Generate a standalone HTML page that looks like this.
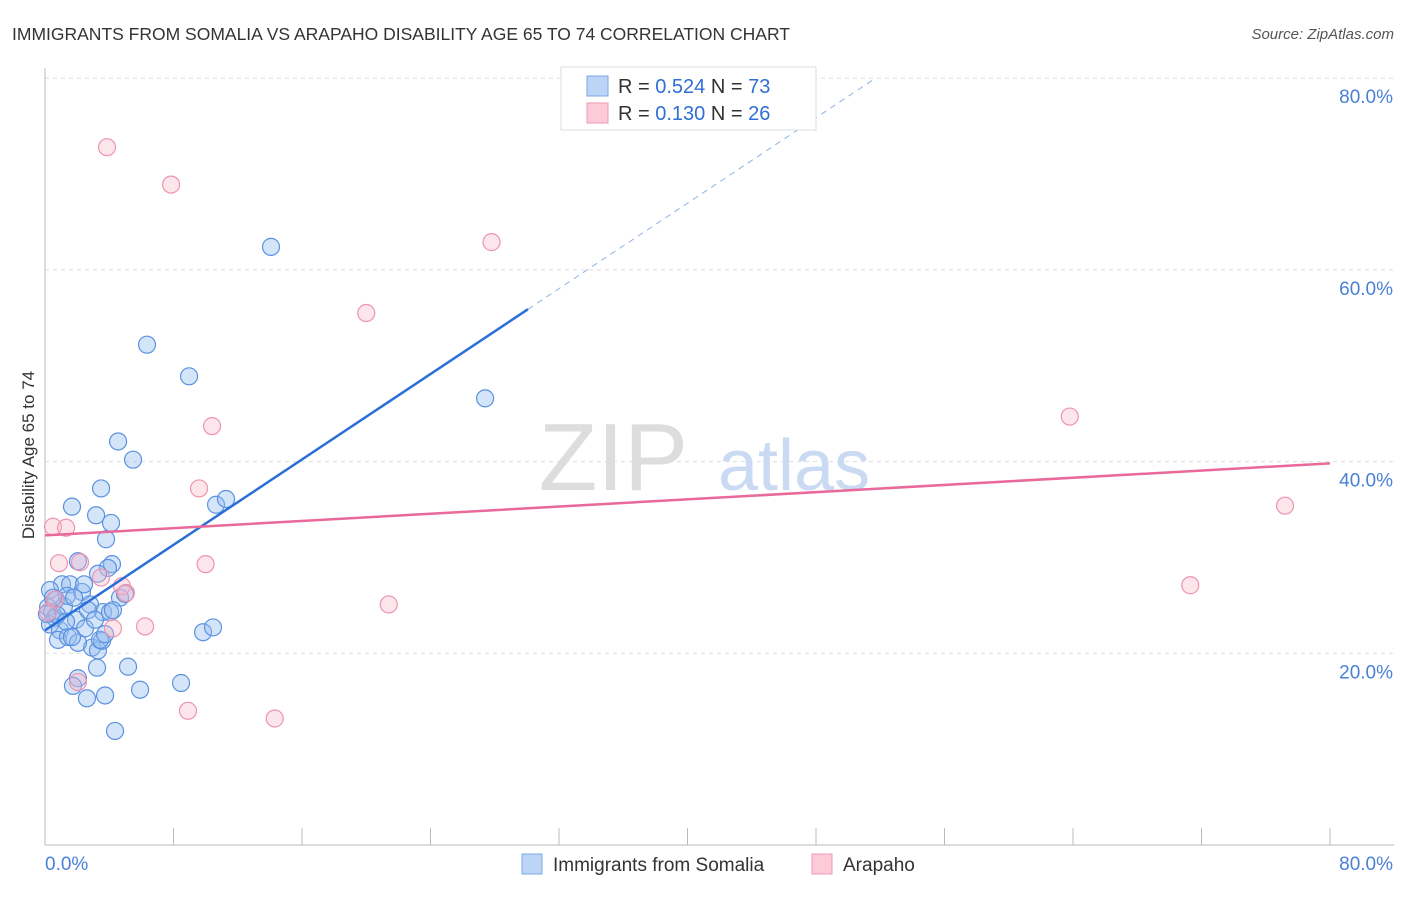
<!DOCTYPE html>
<html><head><meta charset="utf-8"><style>
body{margin:0;background:#fff;font-family:"Liberation Sans",sans-serif}
svg text{font-family:"Liberation Sans",sans-serif}
</style></head><body>
<svg width="1406" height="892" xmlns="http://www.w3.org/2000/svg">
<text x="12" y="40" font-size="17.5" fill="#333">IMMIGRANTS FROM SOMALIA VS ARAPAHO DISABILITY AGE 65 TO 74 CORRELATION CHART</text>
<text x="1394" y="39" font-size="15" fill="#555" font-style="italic" text-anchor="end">Source: ZipAtlas.com</text>
<g id="grid"></g>
<text x="688" y="490" font-size="96" fill="#ddd" font-family="Liberation Serif" text-anchor="end">ZIP</text>
<text x="718" y="490" font-size="72" fill="#c9daf2">atlas</text>
<line x1="45" y1="68" x2="45" y2="845" stroke="#bbb"/>
<line x1="45" y1="845" x2="1394" y2="845" stroke="#bbb"/>
<g id="ticks"></g>
<text x="34" y="455" font-size="17" fill="#333" text-anchor="middle" transform="rotate(-90 34 455)">Disability Age 65 to 74</text>
<g id="pts"></g>
<g id="lines"></g>
<g>
<rect x="561" y="67" width="255" height="63" fill="#fff" stroke="#ddd"/>
<rect x="587" y="76" width="21" height="20" fill="#bcd4f6" stroke="#7aa7e6"/>
<rect x="587" y="103" width="21" height="20" fill="#fbcbd9" stroke="#ef9ab4"/>
<text x="618" y="93" font-size="20" fill="#333">R = <tspan fill="#2f6fd6">0.524</tspan>   N = <tspan fill="#2f6fd6">73</tspan></text>
<text x="618" y="120" font-size="20" fill="#333">R =  <tspan fill="#2f6fd6">0.130</tspan>   N = <tspan fill="#2f6fd6">26</tspan></text>
</g>
<g>
<rect x="522" y="854" width="20" height="20" fill="#bcd4f6" stroke="#7aa7e6"/>
<text x="553" y="871" font-size="19" fill="#333">Immigrants from Somalia</text>
<rect x="812" y="854" width="20" height="20" fill="#fbcbd9" stroke="#ef9ab4"/>
<text x="843" y="871" font-size="19" fill="#333">Arapaho</text>
</g>
</svg>
<script>
const yTicks=[20,40,60,80];
const yTickLabels=["20.0%","40.0%","60.0%","80.0%"];
const xTickLabels=["0.0%","80.0%"];
const blueX=[14.07,6.35,8.97,27.4,4.55,5.48,3.49,1.68,3.18,4.11,3.80,10.65,11.27,4.17,3.92,3.30,2.05,1.06,1.56,2.30,0.31,0.68,0.19,0.44,0.62,0.31,0.93,0.81,1.43,1.93,2.80,3.61,4.05,4.67,4.98,2.49,2.93,3.30,2.05,1.68,1.18,1.37,3.24,5.17,2.05,1.74,2.61,3.74,5.92,8.47,4.36,9.84,10.46,3.55,0.75,0.12,0.50,4.23,2.68,1.31,3.42,3.74,2.43,1.81,3.11];
const blueY=[62.4,52.2,48.9,46.6,42.1,40.2,37.2,35.3,34.4,33.6,31.9,35.5,36.1,29.3,28.9,28.3,29.6,27.2,27.2,26.4,26.6,25.6,24.8,24.3,23.7,23.0,22.4,21.4,21.7,23.5,25.1,24.3,24.3,25.8,26.2,22.6,20.6,20.3,21.1,21.7,24.9,26.0,18.5,18.6,17.4,16.6,15.3,15.6,16.2,16.9,11.9,22.2,22.7,21.3,24.0,24.1,25.8,24.5,24.5,23.3,21.4,22.0,27.2,25.8,23.5];
const pinkX=[3.86,7.85,27.8,20.0,10.4,63.8,9.59,77.2,0.50,1.31,0.87,2.18,10.0,3.49,4.79,5.04,21.4,6.23,4.23,71.3,8.90,14.3,2.05,0.62,0.19];
const pinkY=[72.8,68.9,62.9,55.5,43.7,44.7,37.2,35.4,33.2,33.1,29.4,29.5,29.3,27.9,27.0,26.3,25.1,22.8,22.6,27.1,14.0,13.2,17.0,25.6,24.3];
const blueLine=[22.4,1.114]; // intercept, slope
const pinkLine=[32.3,0.094];
const X=v=>45+v*16.0625, Y=v=>845-v*9.585;
const NS="http://www.w3.org/2000/svg";
function mk(p,t,a){const e=document.createElementNS(NS,t);for(const k in a)e.setAttribute(k,a[k]);document.getElementById(p).appendChild(e);return e;}
yTicks.forEach((t,i)=>{
 const l=mk('grid','line',{x1:45,x2:1394,y1:Y(t),y2:Y(t),stroke:'#ddd','stroke-dasharray':'4,4'});
 
 
 const tx=mk('ticks','text',{x:1393,y:Y(t)+25,'font-size':19,fill:'#4a80d6','text-anchor':'end'});tx.textContent=yTickLabels[i];
 
 
});
for(let i=1;i<=10;i++){const l=mk('ticks','line',{x1:X(i*8),x2:X(i*8),y1:828,y2:845,stroke:'#bbb'});
 
 }
[[0,'start',45],[80,'end',1393]].forEach((d,i)=>{const t=mk('ticks','text',{x:d[2],y:870,'font-size':19,fill:'#4a80d6','text-anchor':d[1]});t.textContent=xTickLabels[i];
 
 });
blueX.forEach((x,i)=>{const c=mk('pts','circle',{cx:X(x),cy:Y(blueY[i]),r:8.5,fill:'rgba(150,190,240,0.4)',stroke:'#5b92e0','stroke-width':1.2});
 
 });
pinkX.forEach((x,i)=>{const c=mk('pts','circle',{cx:X(x),cy:Y(pinkY[i]),r:8.5,fill:'rgba(248,180,200,0.35)',stroke:'#ee94b0','stroke-width':1.2});
 
 });
let b1=mk('lines','line',{x1:X(0),y1:Y(blueLine[0]),x2:X(30.07),y2:Y(blueLine[0]+blueLine[1]*30.07),stroke:'#2a6fd8','stroke-width':2.5});


let xe=(80-blueLine[0])/blueLine[1];
let b2=mk('lines','line',{x1:X(30.07),y1:Y(blueLine[0]+blueLine[1]*30.07),x2:X(xe),y2:Y(80),stroke:'#8fb2e6','stroke-width':1,'stroke-dasharray':'6,5'});


let p1=mk('lines','line',{x1:X(0),y1:Y(pinkLine[0]),x2:X(80),y2:Y(pinkLine[0]+pinkLine[1]*80),stroke:'#e8699a','stroke-width':2.5});


</script>
</body></html>
